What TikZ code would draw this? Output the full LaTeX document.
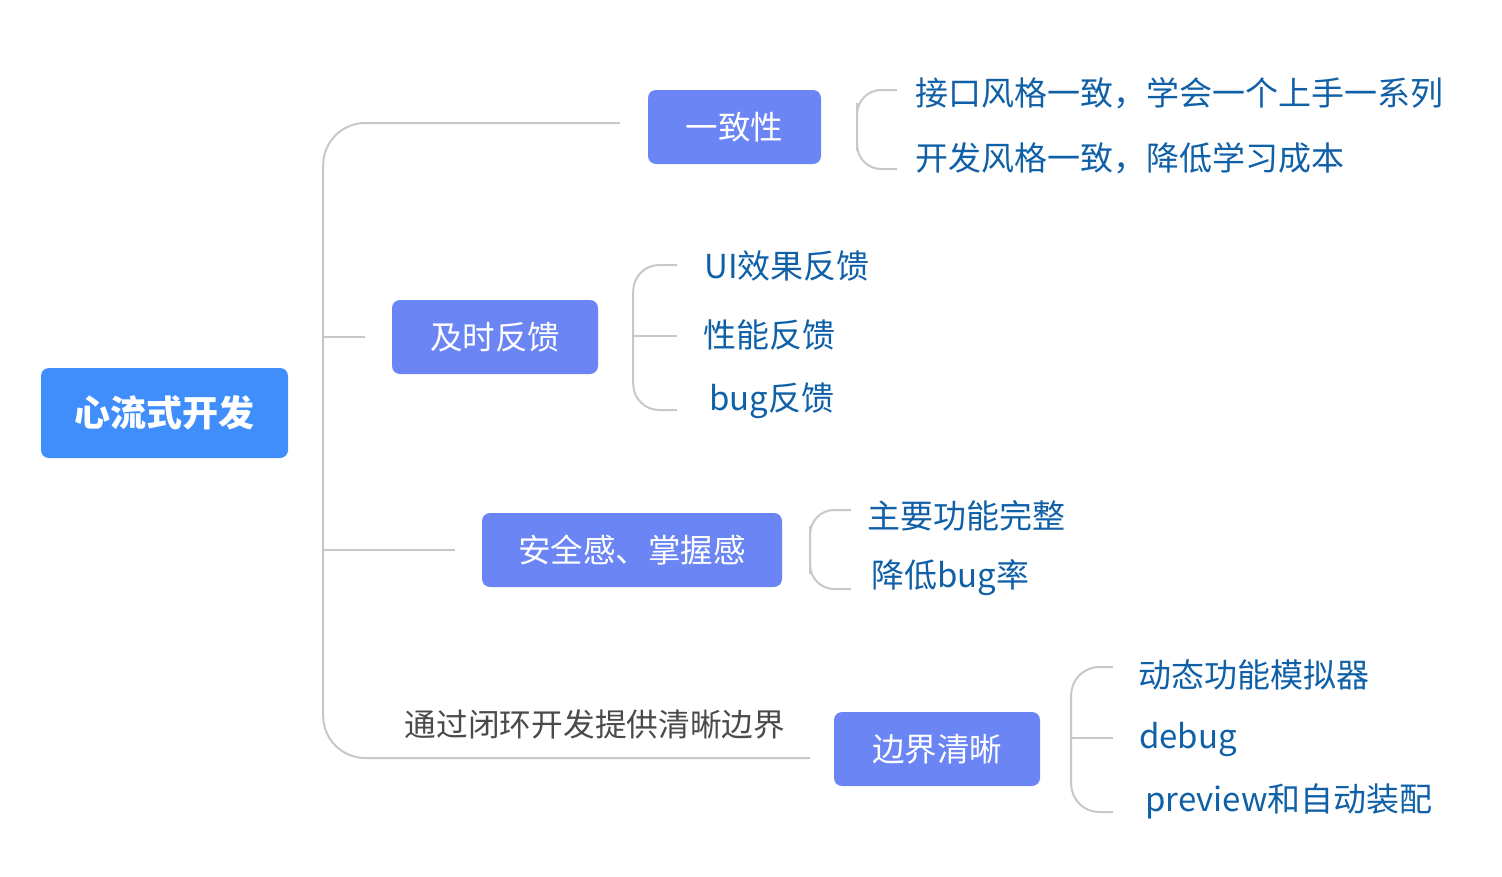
\documentclass[tikz,border=0pt]{standalone}
\usepackage{fontspec}
\setmainfont{Noto Sans CJK SC}
\usetikzlibrary{calc}
\definecolor{rootblue}{HTML}{408EFC}
\definecolor{topicblue}{HTML}{6C85F5}
\definecolor{leafblue}{HTML}{1060A8}
\definecolor{linegray}{HTML}{C8C8C8}
\definecolor{notegray}{HTML}{4A4A4A}
\tikzset{
  rootbox/.style={fill=rootblue, rounded corners=8, text=white, minimum width=247, minimum height=90, inner sep=0, font=\fontsize{36}{42}\selectfont\bfseries},
  topicbox/.style={fill=topicblue, rounded corners=8, text=white, minimum height=74, inner sep=0, font=\fontsize{32.5}{38}\selectfont},
  leaf/.style={anchor=west, inner sep=0, text=leafblue, font=\fontsize{33}{39}\selectfont},
  note/.style={inner sep=0, text=notegray, font=\fontsize{31.7}{38}\selectfont},
  conn/.style={draw=linegray, line width=2},
}
\begin{document}
\begin{tikzpicture}[x=1pt,y=-1pt]
\useasboundingbox (0,0) rectangle (1502,876);
% nodes
\node[rootbox] (root) at (164.5,413) {心流式开发};
\node[topicbox, minimum width=173] (yzx) at (734.5,127) {一致性};
\node[topicbox, minimum width=206] (jsfk) at (495,337) {及时反馈};
\node[topicbox, minimum width=300] (aqg) at (632,550) {安全感、掌握感};
\node[topicbox, minimum width=206] (bjqx) at (937,749) {边界清晰};
% leaves
\node[leaf] (l11) at (915,93) {接口风格一致，学会一个上手一系列};
\node[leaf] (l12) at (915,158) {开发风格一致，降低学习成本};
\node[leaf] (l21) at (704,266) {UI效果反馈};
\node[leaf] (l22) at (703,335) {性能反馈};
\node[leaf] (l23) at (709,401) {bug反馈};
\node[leaf] (l31) at (867,516) {主要功能完整};
\node[leaf] (l32) at (871,578) {降低bug率};
\node[leaf] (l41) at (1138,675) {动态功能模拟器};
\node[leaf] (l42) at (1139,739) {debug};
\node[leaf] (l43) at (1145,801) {preview和自动装配};
\node[note] (lbl) at (595,724) {通过闭环开发提供清晰边界};
% main bracket
\coordinate (mb) at ($(root.east)+(35,0)$);
\coordinate (m1) at ($(yzx.west)+(-28,-4)$);
\coordinate (m4) at ($(bjqx.west)+(-24,9)$);
\draw[conn, rounded corners=42] (m1) -| (mb) |- (m4);
\draw[conn] (mb |- jsfk.west) -- ($(jsfk.west)+(-27,0)$);
\draw[conn] (mb |- aqg.west) -- ($(aqg.west)+(-27,0)$);
% group 1
\coordinate (g1) at ($(yzx.east)+(36,0)$);
\draw[conn, rounded corners=24] ($(l11.west)+(-18,-3)$) -| (g1) |- ($(l12.west)+(-18,11)$);
% group 2
\coordinate (g2) at ($(jsfk.east)+(35,-1)$);
\draw[conn, rounded corners=26] ($(l21.west)+(-27,-1)$) -| (g2) |- ($(l23.west)+(-32,9)$);
\draw[conn] (g2) -- ($(l22.west)+(-26,1)$);
% group 3
\coordinate (g3) at ($(aqg.east)+(28,0)$);
\draw[conn, rounded corners=24] ($(l31.west)+(-16,-6)$) -| (g3) |- ($(l32.west)+(-20,11)$);
% group 4
\coordinate (g4) at ($(bjqx.east)+(31,-11)$);
\draw[conn, rounded corners=28] ($(l41.west)+(-25,-8)$) -| (g4) |- ($(l43.west)+(-32,11)$);
\draw[conn] (g4) -- ($(l42.west)+(-26,-1)$);
\end{tikzpicture}
\end{document}
